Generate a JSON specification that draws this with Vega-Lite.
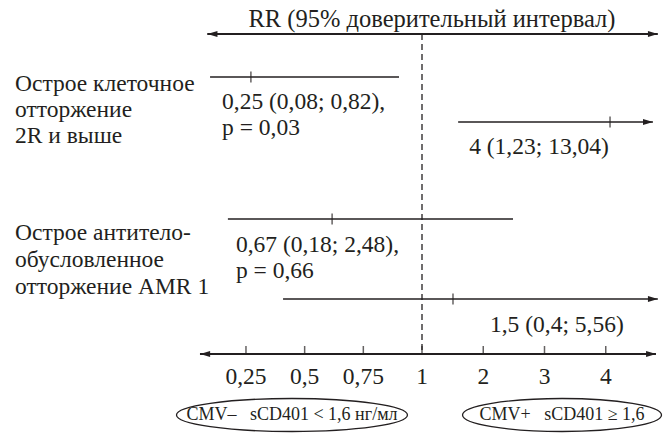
{
  "$schema": "https://vega.github.io/schema/vega-lite/v6.json",
  "width": 667,
  "height": 433,
  "padding": 0,
  "autosize": {"type": "none"},
  "background": "white",
  "config": {
    "view": {"stroke": null},
    "axis": {"disable": true},
    "text": {"font": "Liberation Serif", "fontSize": 23.5, "color": "#231f20"}
  },
  "datasets": {
    "ci": [
      {"outcome": "Острое клеточное отторжение", "group": "CMV-", "lo": 0.097, "est": 0.271, "hi": 0.902, "y": 77},
      {"outcome": "Острое клеточное отторжение", "group": "CMV+", "lo": 1.59, "est": 4.07, "hi": 4.77, "y": 122},
      {"outcome": "Острое АМР", "group": "CMV-", "lo": 0.173, "est": 0.617, "hi": 2.486, "y": 219},
      {"outcome": "Острое АМР", "group": "CMV+", "lo": 0.408, "est": 1.506, "hi": 4.85, "y": 299}
    ],
    "axes": [
      {"name": "top", "lo": 0.085, "hi": 4.85, "y": 34},
      {"name": "bottom", "lo": 0.054, "hi": 4.82, "y": 354}
    ],
    "arrows": [
      {"v": 0.107, "y": 34, "dir": "left"},
      {"v": 4.77, "y": 34, "dir": "right"},
      {"v": 0.076, "y": 354, "dir": "left"},
      {"v": 4.74, "y": 354, "dir": "right"},
      {"v": 4.69, "y": 122, "dir": "right"},
      {"v": 4.77, "y": 299, "dir": "right"}
    ],
    "ref": [{"v": 1, "y": 34, "y2": 354}],
    "ticks": [
      {"v": 0.25, "label": "0,25"},
      {"v": 0.5, "label": "0,5"},
      {"v": 0.75, "label": "0,75"},
      {"v": 1, "label": "1"},
      {"v": 2, "label": "2"},
      {"v": 3, "label": "3"},
      {"v": 4, "label": "4"}
    ],
    "labels": [
      {"v": -0.734, "y": 84, "text": "Острое клеточное"},
      {"v": -0.734, "y": 110, "text": "отторжение"},
      {"v": -0.734, "y": 136, "text": "2R и выше"},
      {"v": 0.148, "y": 102, "text": "0,25 (0,08; 0,82),"},
      {"v": 0.148, "y": 128, "text": "p = 0,03"},
      {"v": 1.77, "y": 147, "text": "4 (1,23; 13,04)"},
      {"v": -0.734, "y": 233, "text": "Острое антитело-"},
      {"v": -0.734, "y": 260, "text": "обусловленное"},
      {"v": -0.734, "y": 287, "text": "отторжение AMR 1"},
      {"v": 0.207, "y": 245, "text": "0,67 (0,18; 2,48),"},
      {"v": 0.207, "y": 271, "text": "p = 0,66"},
      {"v": 2.11, "y": 325, "text": "1,5 (0,4; 5,56)"}
    ],
    "groups": [
      {"v": 0.446, "y": 415, "text": "CMV–\u00a0\u00a0\u00a0sCD401 < 1,6 нг/мл", "group": "neg"},
      {"v": 3.286, "y": 415, "text": "CMV+\u00a0\u00a0\u00a0sCD401 ≥ 1,6", "group": "pos"}
    ]
  },
  "layer": [
    {
      "data": {"name": "ref"},
      "mark": {"type": "rule", "strokeDash": [6, 4], "strokeWidth": 1.3, "color": "#231f20"},
      "encoding": {
        "x": {"field": "v", "type": "quantitative", "scale": {"domain": [-0.798, 1, 5], "range": [0, 422, 667], "nice": false, "zero": false}},
        "y": {"field": "y", "type": "quantitative", "scale": {"domain": [0, 433], "range": [0, 433], "nice": false, "zero": false}},
        "y2": {"field": "y2"}
      }
    },
    {
      "data": {"name": "axes"},
      "mark": {"type": "rule", "strokeWidth": 2, "color": "#231f20"},
      "encoding": {
        "x": {"field": "lo", "type": "quantitative"},
        "x2": {"field": "hi"},
        "y": {"field": "y", "type": "quantitative"}
      }
    },
    {
      "data": {"name": "ci"},
      "mark": {"type": "rule", "strokeWidth": 1.6, "color": "#231f20"},
      "encoding": {
        "x": {"field": "lo", "type": "quantitative"},
        "x2": {"field": "hi"},
        "y": {"field": "y", "type": "quantitative"}
      }
    },
    {
      "data": {"name": "ci"},
      "mark": {"type": "tick", "orient": "vertical", "size": 11, "thickness": 1.5, "color": "#231f20"},
      "encoding": {
        "x": {"field": "est", "type": "quantitative"},
        "y": {"field": "y", "type": "quantitative"}
      }
    },
    {
      "data": {"name": "ticks"},
      "mark": {"type": "tick", "orient": "vertical", "size": 9, "thickness": 1.5, "color": "#231f20"},
      "encoding": {
        "x": {"field": "v", "type": "quantitative"},
        "y": {"datum": 350.5, "type": "quantitative"}
      }
    },
    {
      "data": {"name": "ticks"},
      "mark": {"type": "text", "align": "center", "baseline": "middle"},
      "encoding": {
        "x": {"field": "v", "type": "quantitative"},
        "y": {"datum": 377, "type": "quantitative"},
        "text": {"field": "label"}
      }
    },
    {
      "data": {"name": "arrows"},
      "mark": {"type": "point", "filled": true, "opacity": 1, "size": 100, "color": "#231f20", "strokeWidth": 0},
      "encoding": {
        "x": {"field": "v", "type": "quantitative"},
        "y": {"field": "y", "type": "quantitative"},
        "shape": {"field": "dir", "type": "nominal", "legend": null, "scale": {"domain": ["left", "right"], "range": ["M-1,0L1,-0.6L1,0.6Z", "M1,0L-1,-0.6L-1,0.6Z"]}}
      }
    },
    {
      "data": {"name": "labels"},
      "mark": {"type": "text", "align": "left", "baseline": "middle"},
      "encoding": {
        "x": {"field": "v", "type": "quantitative"},
        "y": {"field": "y", "type": "quantitative"},
        "text": {"field": "text"}
      }
    },
    {
      "data": {"values": [{"v": 1.163, "text": "RR (95% доверительный интервал)"}]},
      "mark": {"type": "text", "align": "center", "baseline": "alphabetic", "fontSize": 24.5},
      "encoding": {
        "x": {"field": "v", "type": "quantitative"},
        "y": {"datum": 27, "type": "quantitative"},
        "text": {"field": "text"}
      }
    },
    {
      "data": {"name": "groups"},
      "mark": {"type": "text", "align": "center", "baseline": "middle", "fontSize": 18},
      "encoding": {
        "x": {"field": "v", "type": "quantitative"},
        "y": {"field": "y", "type": "quantitative"},
        "text": {"field": "text"}
      }
    },
    {
      "data": {"name": "groups"},
      "transform": [{"filter": "datum.group === 'neg'"}],
      "mark": {"type": "point", "shape": "M-1,0A1,0.143,0,1,1,1,0A1,0.143,0,1,1,-1,0Z", "size": 53361, "filled": false, "opacity": 1, "strokeWidth": 1.3, "color": "#231f20"},
      "encoding": {
        "x": {"field": "v", "type": "quantitative"},
        "y": {"field": "y", "type": "quantitative"}
      }
    },
    {
      "data": {"name": "groups"},
      "transform": [{"filter": "datum.group === 'pos'"}],
      "mark": {"type": "point", "shape": "M-1,0A1,0.166,0,1,1,1,0A1,0.166,0,1,1,-1,0Z", "size": 39601, "filled": false, "opacity": 1, "strokeWidth": 1.3, "color": "#231f20"},
      "encoding": {
        "x": {"field": "v", "type": "quantitative"},
        "y": {"field": "y", "type": "quantitative"}
      }
    }
  ]
}
